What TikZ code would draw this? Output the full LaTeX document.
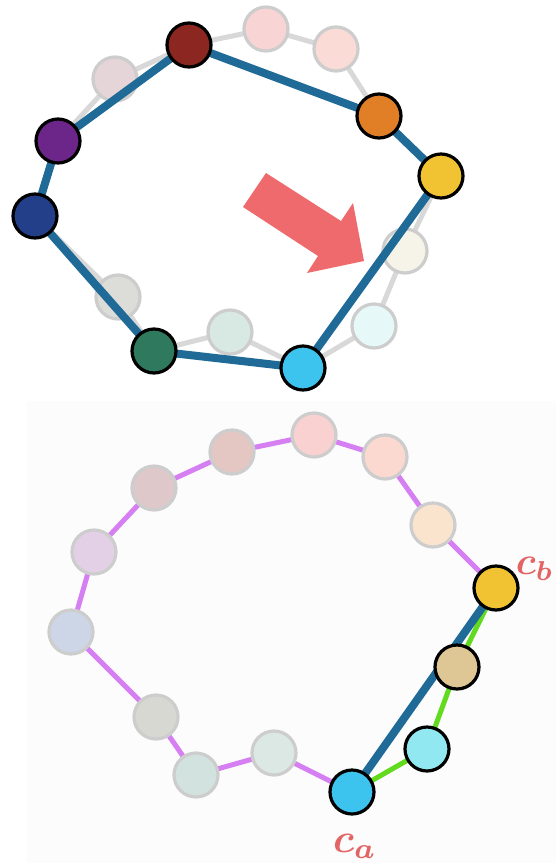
\documentclass[tikz,border=0pt]{standalone}
\usepackage{bm}
\usepackage{graphicx}
\begin{document}
\begin{tikzpicture}[x=1pt,y=-1pt,
  dot/.style={circle,minimum size=44pt,inner sep=0pt,line width=3.2pt},
  faded/.style={dot,draw=fadeborder},
  lit/.style={dot,draw=black},
  chain/.style={line width=5pt,draw=chaingrey},
  route/.style={line width=8pt,draw=routeblue},
  loopedge/.style={line width=5pt,draw=loopmagenta},
  newedge/.style={line width=5pt,draw=newgreen},
  lbl/.style={text=lblred,inner sep=0pt}]
\definecolor{fadeborder}{RGB}{205,205,205}
\definecolor{chaingrey}{RGB}{216,216,216}
\definecolor{routeblue}{RGB}{31,106,150}
\definecolor{loopmagenta}{RGB}{214,127,242}
\definecolor{newgreen}{RGB}{98,219,30}
\definecolor{lblred}{RGB}{227,100,100}
\definecolor{arrowred}{RGB}{238,106,109}
\definecolor{panelbg}{RGB}{252,252,252}
\useasboundingbox (0,0) rectangle (556,863);
\fill[white] (0,0) rectangle (556,863);
\fill[panelbg] (27,401) rectangle (556,863);

% ---------- upper panel ----------
\coordinate (pu1) at (115,79);
\coordinate (pu2) at (266,29);
\coordinate (pu3) at (336,49);
\coordinate (pu4) at (405,251);
\coordinate (pu5) at (374,326);
\coordinate (pu7) at (230,332);
\coordinate (pu6) at (118,297);
\coordinate (pdred) at (189,45);
\coordinate (porange) at (379,116);
\coordinate (pyellow) at (441,176);
\coordinate (pcyan) at (303,368);
\coordinate (pgreen) at (154,351);
\coordinate (pdblue) at (35,216);
\coordinate (ppurple) at (58,141);

% grey chain beneath the faded beads
\draw[chain] (ppurple) -- (pu1) -- (pdred) -- (pu2) -- (pu3) -- (porange) -- (pyellow)
  -- (pu4) -- (pu5) -- (pcyan) -- (pu7) -- (pgreen) -- (pu6) -- (pdblue) -- cycle;

\node[faded,fill={rgb,255:red,230;green,213;blue,216}] (u1) at (pu1) {};
\node[faded,fill={rgb,255:red,249;green,212;blue,212}] (u2) at (pu2) {};
\node[faded,fill={rgb,255:red,250;green,219;blue,214}] (u3) at (pu3) {};
\node[faded,fill={rgb,255:red,246;green,243;blue,232}] (u4) at (pu4) {};
\node[faded,fill={rgb,255:red,230;green,248;blue,248}] (u5) at (pu5) {};
\node[faded,fill={rgb,255:red,216;green,232;blue,226}] (u7) at (pu7) {};
\node[faded,fill={rgb,255:red,220;green,220;blue,216}] (u6) at (pu6) {};

% shortened route over the faded beads
\draw[route,line join=round] (pdred) -- (porange) -- (pyellow) -- (pcyan) -- (pgreen) -- (pdblue) -- (ppurple) -- cycle;

\node[lit,fill={rgb,255:red,139;green,39;blue,32}] (dred) at (pdred) {};
\node[lit,fill={rgb,255:red,224;green,127;blue,38}] (orange) at (porange) {};
\node[lit,fill={rgb,255:red,241;green,194;blue,50}] (yellow) at (pyellow) {};
\node[lit,fill={rgb,255:red,61;green,196;blue,238}] (cyan) at (pcyan) {};
\node[lit,fill={rgb,255:red,47;green,122;blue,95}] (green) at (pgreen) {};
\node[lit,fill={rgb,255:red,35;green,63;blue,138}] (dblue) at (pdblue) {};
\node[lit,fill={rgb,255:red,108;green,37;blue,136}] (purple) at (ppurple) {};

% block arrow
\fill[arrowred] (266,173) -- (341,221) -- (353,203) -- (364,261) -- (307,273) -- (318,256) -- (243,207) -- cycle;

% ---------- lower panel ----------
\coordinate (b1) at (71,632);
\coordinate (b2) at (94,552);
\coordinate (b3) at (154,488);
\coordinate (b4) at (232,452);
\coordinate (b5) at (314,435);
\coordinate (b6) at (385,457);
\coordinate (b7) at (433,525);
\coordinate (b8) at (496,588);
\coordinate (b9) at (457,667);
\coordinate (b10) at (427,749);
\coordinate (b11) at (352,792);
\coordinate (b12) at (274,753);
\coordinate (b13) at (196,775);
\coordinate (b14) at (156,717);

\draw[loopedge] (b11) -- (b12) -- (b13) -- (b14) -- (b1) -- (b2) -- (b3) -- (b4) -- (b5) -- (b6) -- (b7) -- (b8);
\draw[newedge] (b8) -- (b9) -- (b10) -- (b11);
\draw[route] (b11) -- (b8);

\node[faded,fill={rgb,255:red,205;green,214;blue,230}] (l1) at (b1) {};
\node[faded,fill={rgb,255:red,227;green,208;blue,230}] (l2) at (b2) {};
\node[faded,fill={rgb,255:red,222;green,200;blue,202}] (l3) at (b3) {};
\node[faded,fill={rgb,255:red,228;green,198;blue,195}] (l4) at (b4) {};
\node[faded,fill={rgb,255:red,249;green,209;blue,208}] (l5) at (b5) {};
\node[faded,fill={rgb,255:red,251;green,217;blue,209}] (l6) at (b6) {};
\node[faded,fill={rgb,255:red,251;green,228;blue,206}] (l7) at (b7) {};
\node[faded,fill={rgb,255:red,220;green,232;blue,227}] (l12) at (b12) {};
\node[faded,fill={rgb,255:red,210;green,226;blue,222}] (l13) at (b13) {};
\node[faded,fill={rgb,255:red,216;green,216;blue,210}] (l14) at (b14) {};
\node[lit,fill={rgb,255:red,241;green,194;blue,50}] (cb) at (b8) {};
\node[lit,fill={rgb,255:red,223;green,199;blue,149}] (l9) at (b9) {};
\node[lit,fill={rgb,255:red,146;green,232;blue,240}] (l10) at (b10) {};
\node[lit,fill={rgb,255:red,61;green,196;blue,238}] (ca) at (b11) {};

\node[lbl,anchor=east] (cblabel) at (554,569) {\scalebox{3.9}{$\bm{c_b}$}};
\node[lbl] (calabel) at (355,846) {\scalebox{4.1}{$\bm{c_a}$}};
\end{tikzpicture}
\end{document}
